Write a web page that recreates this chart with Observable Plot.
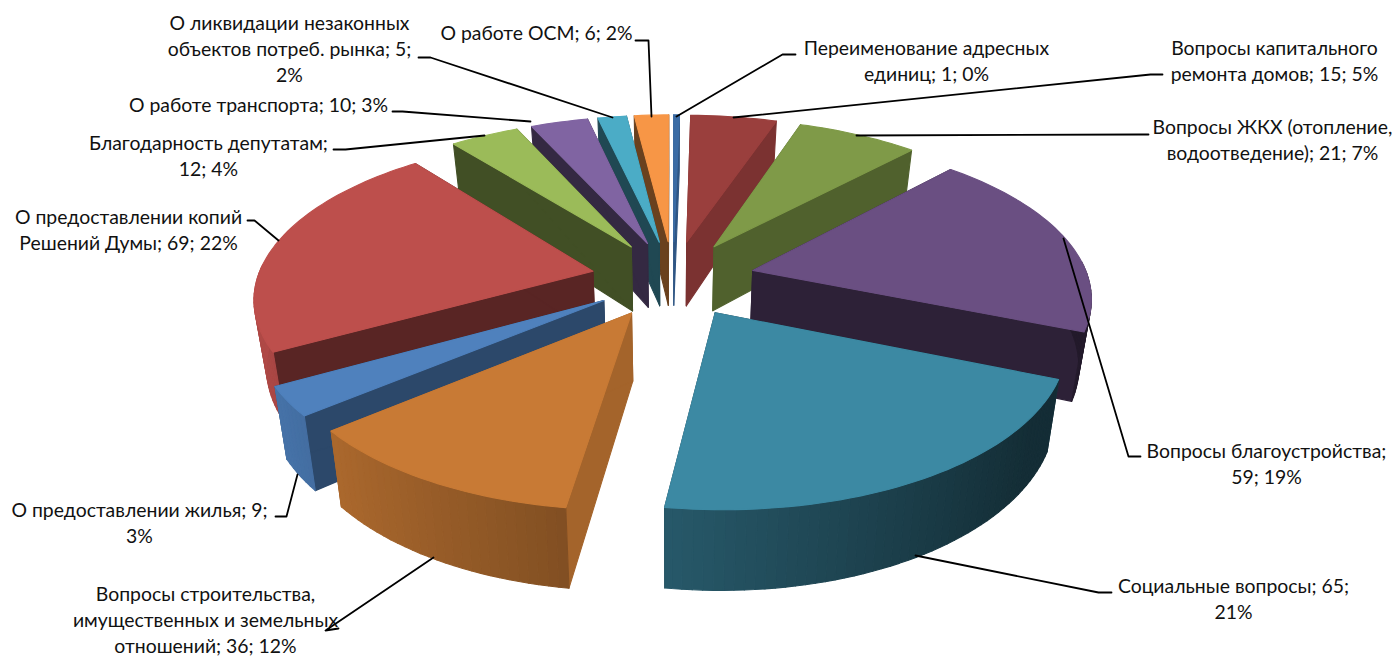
<!DOCTYPE html>
<html><head><meta charset="utf-8">
<style>html,body{margin:0;padding:0;background:#fff}svg{display:block}</style>
<script src="https://cdn.jsdelivr.net/npm/d3@7"></script>
<script src="https://cdn.jsdelivr.net/npm/@observablehq/plot@0.6"></script>
</head><body><div id="chart"></div>
<script>
const categories = ["Переименование адресных единиц","Вопросы капитального ремонта домов","Вопросы ЖКХ (отопление, водоотведение)","Вопросы благоустройства","Социальные вопросы","Вопросы строительства, имущественных и земельных отношений","О предоставлении жилья","О предоставлении копий Решений Думы","Благодарность депутатам","О работе транспорта","О ликвидации незаконных объектов потреб. рынка","О работе ОСМ"];
const values = [1,15,21,59,65,36,9,69,12,10,5,6];
const percents = [0,5,7,19,21,12,3,22,4,3,2,2];
const labelLines = [
 ["Переименование адресных","единиц; 1; 0%"],
 ["Вопросы капитального","ремонта домов; 15; 5%"],
 ["Вопросы ЖКХ (отопление,","водоотведение); 21; 7%"],
 ["Вопросы благоустройства;","59; 19%"],
 ["Социальные вопросы; 65;","21%"],
 ["Вопросы строительства,","имущественных и земельных","отношений; 36; 12%"],
 ["О предоставлении жилья; 9;","3%"],
 ["О предоставлении копий","Решений Думы; 69; 22%"],
 ["Благодарность депутатам;","12; 4%"],
 ["О работе транспорта; 10; 3%"],
 ["О ликвидации незаконных","объектов потреб. рынка; 5;","2%"],
 ["О работе ОСМ; 6; 2%"]
];
const topColors = ["#3b6ca5","#9a3f3d","#7f9a48","#6a4f82","#3c89a3","#c87a35","#4f81bd","#bd4f4c","#9bbb59","#8064a2","#4bacc6","#f79646"];
const sideShades = [.8,.8,.63,.42,.45,.82,.56,.47,.42,.41,.42,.43];
// label placement: centre x, first line centre y
const labelX = [926,1274,1272,1266,1233,205,139,128,208,258,289,536];
const labelY = [48,48,127,451,586,594,510,217,143,105,23,33];
// leader polylines, pie end first
const leaders = [
 [[676,116],[782,54],[795,54]],
 [[733,117],[1150,74],[1162,74]],
 [[856,135],[1138,134],[1148,134]],
 [[1063,238],[1128,456],[1140,456]],
 [[915,555],[1098,592],[1111,592]],
 [[433,557],[325,630],[338,628]],
 [[297,474],[286,516],[275,516]],
 [[278,240],[254,220],[247,220]],
 [[484,135],[345,149],[333,149]],
 [[530,121],[402,111],[392,111]],
 [[612,117],[430,57],[418,57]],
 [[651,116],[648,40],[635,40]]
];
// projection of the tilted pie; the lower plane (z=1) is slightly narrower
const cx=672.5, cy=278, A=335.5, a=156, b=.15, D=66, ex=.245, shrink=.03;
function P(u,v,z){const s=1/(1-b*v);return {x:cx+A*u*s*(1-shrink*z),y:cy+a*v*s+D*z*s};}
const rad=d=>d*Math.PI/180;
const total=d3.sum(values);
let cum=0;
const wedges=values.map((val,i)=>{const a0=cum/total*360;cum+=val;const a1=cum/total*360;const m=(a0+a1)/2;
  return {i,a0,a1,eu:ex*Math.sin(rad(m)),ev:-ex*Math.cos(rad(m))};});
const order=[...wedges].sort((p,q)=>p.ev-q.ev);
const shade=(c,f)=>{const r=d3.rgb(c);return d3.rgb(r.r*f,r.g*f,r.b*f).formatHex();};
const rows=[];let id=0;
function poly(pts,color){const k=id++;for(const p of pts)rows.push({k,x:p.x,y:p.y,color});}
for(const w of order){
  const c=topColors[w.i];
  const rim=t=>[w.eu+Math.sin(rad(t)),w.ev-Math.cos(rad(t))];
  const r0=rim(w.a0), r1=rim(w.a1);
  const sc=shade(c,sideShades[w.i]);
  poly([P(w.eu,w.ev,0),P(r0[0],r0[1],0),P(r0[0],r0[1],1),P(w.eu,w.ev,1)],sc);
  poly([P(w.eu,w.ev,0),P(r1[0],r1[1],0),P(r1[0],r1[1],1),P(w.eu,w.ev,1)],sc);
  const ts=d3.range(w.a0,w.a1,1.5).concat([w.a1]);
  for(let j=0;j+1<ts.length;j++){
    const mid=(ts[j]+ts[j+1])/2;
    if(Math.cos(rad(mid))>0.05) continue; // far side of the rim is hidden
    const p=rim(ts[j]),q=rim(ts[j+1]);
    const f=Math.max(.33,.6-.33*Math.sin(rad(mid)));
    poly([P(p[0],p[1],0),P(q[0],q[1],0),P(q[0],q[1],1),P(p[0],p[1],1)],shade(c,f));
  }
  poly([P(w.eu,w.ev,0),...ts.map(t=>{const p=rim(t);return P(p[0],p[1],0);})],c);
}
const leaderRows=leaders.flatMap((l,k)=>l.map(([x,y])=>({k,x,y})));
const textRows=labelLines.flatMap((ls,i)=>ls.map((t,j)=>({t,x:labelX[i],y:labelY[i]+j*26})));
const chart=Plot.plot({
  width:1394,height:657,margin:0,
  x:{domain:[0,1394],range:[0,1394],axis:null},
  y:{domain:[0,657],range:[0,657],axis:null},
  marks:[
    Plot.line(rows,{x:"x",y:"y",z:"k",fill:"color",stroke:"color",strokeWidth:1.1,curve:"linear-closed"}),
    Plot.line(leaderRows,{x:"x",y:"y",z:"k",stroke:"#000",strokeWidth:1.8}),
    Plot.text(textRows,{x:"x",y:"y",text:"t",textAnchor:"middle",fontFamily:"Lato, 'Open Sans', sans-serif",fontSize:19.4,fill:"#111"})
  ]
});
document.getElementById("chart").append(chart);
</script></body></html>
